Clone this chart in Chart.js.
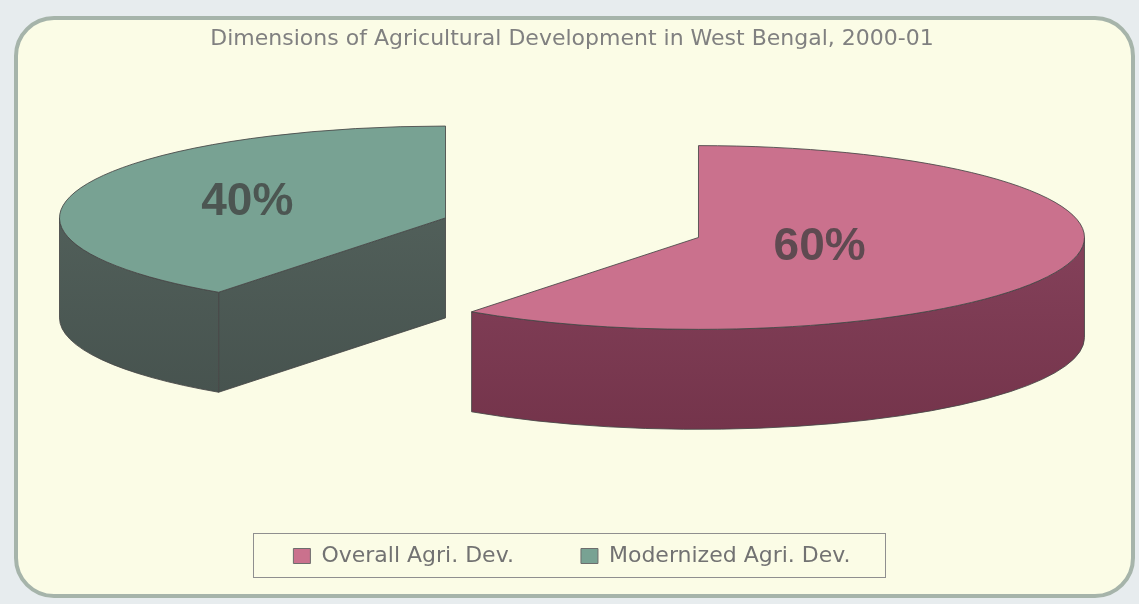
<!DOCTYPE html>
<html>
<head>
<meta charset="utf-8">
<title>Agricultural Development in West Bengal</title>
<script src="https://cdn.jsdelivr.net/npm/chart.js@4.4.1/dist/chart.umd.min.js"></script>
<style>
  html, body { margin: 0; padding: 0; background: #e7ecee; }
  #wrap { width: 1139px; height: 604px; position: relative; }
</style>
</head>
<body>
<div id="wrap"><canvas id="pie3d"></canvas></div>
<script>
const categories = ["Overall Agri. Dev.", "Modernized Agri. Dev."];
const shares = [60, 40];
const titleText = "Dimensions of Agricultural Development in West Bengal, 2000-01";

const topColors = ["#ca718d", "#78a293"];
const sideColors = [["#8c4761", "#74344b"], ["#56655f", "#46524e"]];
const labelDistance = [0.33, 0.54];

// 3D look of the pie (pixels)
const pie3d = { radius: 386, tilt: 0.238, depth: 100, explode: 133 };

// page background and the rounded panel
const framePlugin = {
  id: "frame",
  beforeDraw(chart) {
    const ctx = chart.ctx;
    ctx.save();
    ctx.fillStyle = "#e7ecee";
    ctx.fillRect(0, 0, chart.width, chart.height);
    ctx.beginPath();
    ctx.roundRect(16, 18, 1117, 578, 38);
    ctx.fillStyle = "#fbfce6";
    ctx.fill();
    ctx.lineWidth = 4;
    ctx.strokeStyle = "#a6b4aa";
    ctx.stroke();
    ctx.restore();
  },
  afterDraw(chart) {
    // thin box round the legend items
    const boxes = chart.legend.legendHitBoxes;
    if (!boxes.length) return;
    const first = boxes[0];
    const last = boxes[boxes.length - 1];
    const mid = first.top + first.height / 2;
    const ctx = chart.ctx;
    ctx.save();
    ctx.strokeStyle = "#8f8f8f";
    ctx.lineWidth = 1;
    const l = Math.round(first.left - 40) + 0.5;
    const r = Math.round(last.left + last.width + 34) + 0.5;
    const t = Math.round(mid - 23) + 0.5;
    const b = Math.round(mid + 21) + 0.5;
    ctx.strokeRect(l, t, r - l, b - t);
    ctx.restore();
  }
};

// draws the pie slices as tilted, exploded 3D wedges
const pie3dPlugin = {
  id: "pie3d",
  beforeDatasetDraw() {
    return false;
  },
  afterDatasetsDraw(chart) {
    const ctx = chart.ctx;
    const meta = chart.getDatasetMeta(0);
    const rx = pie3d.radius;
    const ry = rx * pie3d.tilt;
    const h = pie3d.depth;
    const total = shares.reduce((a, b) => a + b, 0);

    const slices = meta.data.map((arc, i) => {
      const mid = (arc.startAngle + arc.endAngle) / 2;
      const cy = arc.y - h / 2;
      return {
        i,
        a0: arc.startAngle,
        a1: arc.endAngle,
        mid,
        vx: arc.x + pie3d.explode * Math.cos(mid),
        vy: cy + pie3d.explode * pie3d.tilt * Math.sin(mid)
      };
    });
    slices.sort((p, q) => p.vy - q.vy);

    ctx.save();
    ctx.lineWidth = 1;
    ctx.strokeStyle = "rgba(70,70,70,0.85)";
    ctx.lineJoin = "round";

    slices.forEach((s) => {
      const grad = ctx.createLinearGradient(0, s.vy - ry, 0, s.vy + ry + h);
      grad.addColorStop(0, sideColors[s.i][0]);
      grad.addColorStop(1, sideColors[s.i][1]);

      // flat cut faces along the radii
      const face = (a) => {
        const px = s.vx + rx * Math.cos(a);
        const py = s.vy + ry * Math.sin(a);
        ctx.beginPath();
        ctx.moveTo(s.vx, s.vy);
        ctx.lineTo(px, py);
        ctx.lineTo(px, py + h);
        ctx.lineTo(s.vx, s.vy + h);
        ctx.closePath();
        ctx.fillStyle = grad;
        ctx.fill();
        ctx.stroke();
      };
      if (Math.cos(s.a0) < -1e-6) face(s.a0);
      if (Math.cos(s.a1) > 1e-6) face(s.a1);

      // curved outer wall, front half only
      for (let k = -2; k <= 2; k++) {
        const st = Math.max(s.a0, 2 * Math.PI * k);
        const en = Math.min(s.a1, 2 * Math.PI * k + Math.PI);
        if (en <= st) continue;
        ctx.beginPath();
        ctx.ellipse(s.vx, s.vy, rx, ry, 0, st, en, false);
        ctx.ellipse(s.vx, s.vy + h, rx, ry, 0, en, st, true);
        ctx.closePath();
        ctx.fillStyle = grad;
        ctx.fill();
        ctx.stroke();
      }

      // top face
      ctx.beginPath();
      ctx.moveTo(s.vx, s.vy);
      ctx.lineTo(s.vx + rx * Math.cos(s.a0), s.vy + ry * Math.sin(s.a0));
      ctx.ellipse(s.vx, s.vy, rx, ry, 0, s.a0, s.a1, false);
      ctx.closePath();
      ctx.fillStyle = topColors[s.i];
      ctx.fill();
      ctx.stroke();
    });

    // percentage labels
    ctx.font = "bold 46px 'Liberation Sans', Arial, sans-serif";
    ctx.textAlign = "center";
    ctx.textBaseline = "middle";
    ctx.fillStyle = "rgba(62,62,62,0.76)";
    slices.forEach((s) => {
      const f = labelDistance[s.i];
      const x = s.vx + f * rx * Math.cos(s.mid);
      const y = s.vy + f * ry * Math.sin(s.mid);
      ctx.fillText(Math.round(shares[s.i] / total * 100) + "%", x, y);
    });
    ctx.restore();
  }
};

new Chart(document.getElementById("pie3d"), {
  type: "pie",
  data: {
    labels: categories,
    datasets: [{
      data: shares,
      backgroundColor: topColors,
      borderColor: "#6d6d6d",
      borderWidth: 1
    }]
  },
  options: {
    responsive: true,
    maintainAspectRatio: false,
    animation: false,
    events: [],
    layout: { padding: { top: 10, left: 30, right: 25, bottom: 27 } },
    plugins: {
      title: {
        display: true,
        text: titleText,
        color: "#808080",
        font: { family: "DejaVu Sans", size: 22, weight: "normal" },
        padding: { top: 16, bottom: 25 }
      },
      legend: {
        position: "bottom",
        labels: {
          boxWidth: 17,
          boxHeight: 15,
          padding: 67,
          color: "#727272",
          font: { family: "DejaVu Sans", size: 22 }
        }
      },
      tooltip: { enabled: false }
    }
  },
  plugins: [framePlugin, pie3dPlugin]
});
</script>
</body>
</html>
